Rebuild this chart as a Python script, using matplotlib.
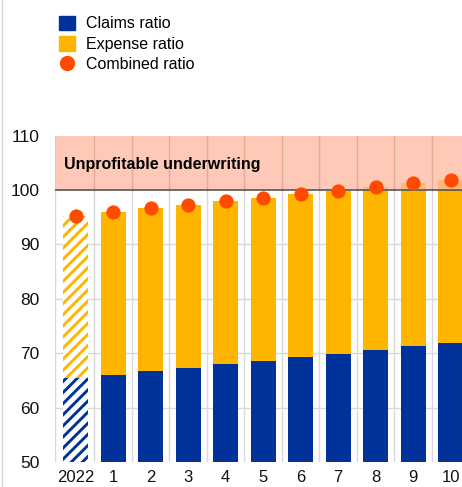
import matplotlib.pyplot as plt
import numpy as np
from matplotlib.lines import Line2D
from matplotlib.patches import Patch

labels = ['2022', '1', '2', '3', '4', '5', '6', '7', '8', '9', '10']
claims = [65.5, 66.0, 66.7, 67.3, 68.0, 68.6, 69.3, 69.9, 70.6, 71.3, 71.9]
combined = [95.2, 96.0, 96.7, 97.3, 98.0, 98.6, 99.3, 99.9, 100.5, 101.2, 101.8]
expense = [c - a for c, a in zip(combined, claims)]

blue = '#003299'
yellow = '#ffb400'
red = '#ff4b00'

plt.rcParams['font.family'] = 'Liberation Sans'
plt.rcParams['hatch.linewidth'] = 2.1

fig = plt.figure(figsize=(4.62, 4.87), dpi=100)
ax = fig.add_axes([0.119, 0.0513, 0.881, 0.6703])

x = np.arange(len(labels))
w = 0.67

# first bar (2022) hatched, rest solid
ax.bar(x[0], claims[0] - 50, w, bottom=50, color='white', edgecolor=blue, hatch='///', lw=0, zorder=2)
ax.bar(x[0], expense[0], w, bottom=claims[0], color='white', edgecolor=yellow, hatch='///', lw=0, zorder=2)
ax.bar(x[1:], np.array(claims[1:]) - 50, w, bottom=50, color=blue, lw=0, zorder=2)
ax.bar(x[1:], expense[1:], w, bottom=claims[1:], color=yellow, lw=0, zorder=2)
ax.scatter(x, combined, s=105, color=red, zorder=5, lw=0)

ax.set_xlim(-0.55, 10.3)
ax.set_ylim(50, 110)

# unprofitable zone
ax.axhspan(100, 110, color='#ffb8a0', alpha=0.75, lw=0, zorder=3)
ax.axhline(100, color='#555555', lw=1.2, zorder=4)
ax.text(-0.3, 104.6, 'Unprofitable underwriting', fontsize=11.5, fontweight='bold', va='center', zorder=6)

ax.set_yticks([50, 60, 70, 80, 90, 100, 110])
ax.set_xticks(x)
ax.set_xticklabels(labels)
ax.tick_params(length=0, labelsize=12, colors='#111111')
ax.tick_params(axis='y', labelsize=12.5, pad=11)
ax.tick_params(axis='x', pad=6)
for yv in [60, 70, 80, 90]:
    ax.axhline(yv, color='#d9d9d9', lw=1, zorder=1)
for xv in np.arange(0.5, 10.5, 1):
    ax.axvline(xv, color='#d9d9d9', lw=1, zorder=1)
    ax.plot([xv, xv], [100, 110], color='#e8aa98', lw=1, zorder=3.5)
ax.axvline(-0.55, color='#d9d9d9', lw=1, zorder=1)
for s in ax.spines.values():
    s.set_visible(False)

fig.add_artist(Line2D([0.004, 0.004], [0, 1], color='#d9d9d9', lw=1))

handles = [Patch(color=blue), Patch(color=yellow),
           Line2D([], [], marker='o', ls='', color=red, markersize=10)]
fig.legend(handles, ['Claims ratio', 'Expense ratio', 'Combined ratio'],
           loc='upper left', bbox_to_anchor=(0.097, 0.997), frameon=False,
           fontsize=11.5, handlelength=1.0, handleheight=1.0, labelspacing=0.3, handletextpad=0.7)

fig.savefig('out.png', dpi=100)
